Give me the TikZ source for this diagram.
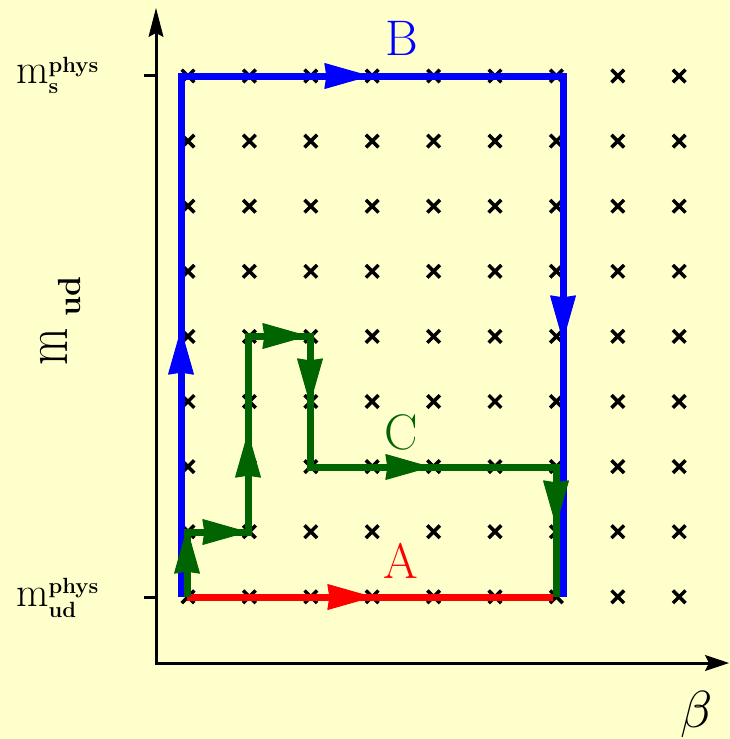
\documentclass[tikz,border=0pt]{standalone}
\usetikzlibrary{arrows.meta}
\definecolor{bg}{HTML}{FFFFCC}
\definecolor{dgreen}{RGB}{0,100,0}
\definecolor{pblue}{RGB}{0,0,255}
\definecolor{pred}{RGB}{255,0,0}
\newcommand{\mbig}{\fontsize{42}{42}\selectfont}
\newcommand{\mscr}{\fontsize{22}{22}\selectfont\bfseries}
\newcommand{\lbl}{\fontsize{50}{50}\selectfont}
\begin{document}
\begin{tikzpicture}[x=1pt,y=-1pt,
  cross/.style={line width=3.5pt, black},
  axis/.style={line width=3pt, black},
  thick path/.style={line width=7pt},
  bluepath/.style={thick path, pblue},
  redpath/.style={thick path, pred},
  greenpath/.style={thick path, dgreen},
  headtip/.tip={Stealth[length=46pt,width=26pt,inset=2pt,round,line width=1pt]},
  yaxtip/.tip={Stealth[length=29pt,width=15pt,inset=4pt,line width=1pt]},
  xaxtip/.tip={Stealth[length=24pt,width=16pt,inset=4pt,line width=1pt]},
  lab/.style={inner sep=0pt}]
\fill[bg] (0,0) rectangle (730,739);
\useasboundingbox (0,0) rectangle (730,739);

% grid of crosses
\foreach \i in {0,...,8}{\foreach \j in {0,...,8}{
  \coordinate (x\i-\j) at ({188+61.4*\i},{76+65.1*\j});
  \draw[cross] (x\i-\j) +(-6.3,-6.3) -- +(6.3,6.3) (x\i-\j) +(-6.3,6.3) -- +(6.3,-6.3);
}}

% axes
\coordinate (ytop) at (156,8);
\coordinate (orig) at (156,663);
\coordinate (xend) at (729,663);
\draw[axis, {yaxtip}-{xaxtip}] (ytop) -- (orig) -- (xend);
\coordinate (t1a) at (144,75); \coordinate (t1b) at (156,75);
\coordinate (t2a) at (144,597); \coordinate (t2b) at (156,597);
\draw[axis] (t1a) -- (t1b);
\draw[axis] (t2a) -- (t2b);

% path B
\coordinate (b1) at (181,597);
\coordinate (b2) at (181,76);
\coordinate (b3) at (563,76);
\coordinate (b4) at (563,597);
\draw[bluepath] (b1) -- (b2) -- (b3) -- (b4);
\coordinate (ba1s) at (181,380); \coordinate (ba1) at (181,330);
\coordinate (ba2s) at (320,76);  \coordinate (ba2) at (369,76);
\coordinate (ba3s) at (563,292); \coordinate (ba3) at (563,340);
\draw[bluepath,-{headtip}] (ba1s) -- (ba1);
\draw[bluepath,-{headtip}] (ba2s) -- (ba2);
\draw[bluepath,-{headtip}] (ba3s) -- (ba3);

% path A
\coordinate (r1) at (187,597);
\coordinate (r2) at (553,597);
\draw[redpath] (r1) -- (r2);
\coordinate (ra1s) at (323,597); \coordinate (ra1) at (372,597);
\draw[redpath,-{headtip}] (ra1s) -- (ra1);

% path C
\coordinate (g0) at (187,597);
\coordinate (g1) at (187,532);
\coordinate (g2) at (248,532);
\coordinate (g3) at (248,336);
\coordinate (g4) at (310,336);
\coordinate (g5) at (310,467);
\coordinate (g6) at (556,467);
\coordinate (g7) at (556,597);
\draw[greenpath] (g0) -- (g1) -- (g2) -- (g3) -- (g4) -- (g5) -- (g6) -- (g7);
\coordinate (ga1s) at (187,580); \coordinate (ga1) at (187,529);
\coordinate (ga2s) at (200,532); \coordinate (ga2) at (247,532);
\coordinate (ga3s) at (248,480); \coordinate (ga3) at (248,433);
\coordinate (ga4s) at (260,336); \coordinate (ga4) at (307,336);
\coordinate (ga5s) at (310,356); \coordinate (ga5) at (310,403);
\coordinate (ga6s) at (383,467); \coordinate (ga6) at (430,467);
\coordinate (ga7s) at (556,478); \coordinate (ga7) at (556,525);
\foreach \k in {1,...,7}{\draw[greenpath,-{headtip}] (ga\k s) -- (ga\k);}

% labels
\node[lab, text=pblue] (labB) at (402,38) {\lbl B};
\node[lab, text=pred] (labA) at (401,561) {\lbl A};
\node[lab, text=dgreen] (labC) at (401,432) {\lbl C};
\node[lab, anchor=base west] (lms) at (16,83) {\mbig m\makebox[0pt][l]{\raisebox{11pt}{\mscr phys}}\raisebox{-10pt}{\mscr s}};
\node[lab, anchor=base west] (lmud) at (16,606) {\mbig m\makebox[0pt][l]{\raisebox{13pt}{\mscr phys}}\raisebox{-11pt}{\mscr ud}};
\node[lab, anchor=base west, rotate=90] (lmaxis) at (67,366) {\fontsize{62}{62}\selectfont\scalebox{0.78}[1]{m}\hspace{12pt}\raisebox{-13pt}{\fontsize{32}{32}\selectfont\bfseries ud}};
\node[lab] (lbeta) at (697,714) {\scalebox{5.2}{$\beta$}};
\end{tikzpicture}
\end{document}
